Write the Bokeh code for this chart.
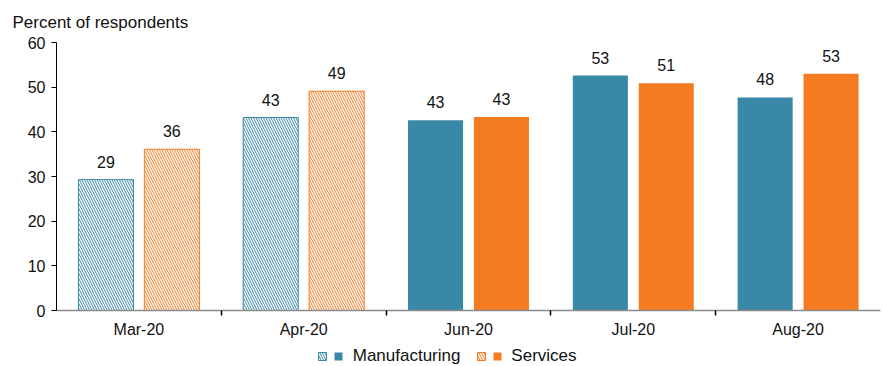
import numpy as np
from bokeh.plotting import figure
from bokeh.layouts import column
from bokeh.models import (Range1d, FixedTicker, Legend, LegendItem,
                          ColumnDataSource)
from bokeh.transform import dodge
from bokeh.core.properties import value
from bokeh.embed import file_html
from bokeh.resources import INLINE

# ---- data ----
months = ["Mar-20", "Apr-20", "Jun-20", "Jul-20", "Aug-20"]
manufacturing = [29.3, 43.2, 42.6, 52.6, 47.7]
services = [36.1, 49.1, 43.3, 50.9, 53.0]
hatched_flag = [True, True, False, False, False]
y_ticks = [0, 10, 20, 30, 40, 50, 60]
series_names = ["Manufacturing", "Services"]

FONT = "Liberation Sans"
BLUE = "#3A88A7"
ORANGE = "#F47B20"
TXT = "#111111"

xs = np.arange(len(months)) + 0.5


def make_src(flag):
    idx = [i for i, f in enumerate(hatched_flag) if f == flag]
    return ColumnDataSource(dict(
        x=[xs[i] for i in idx],
        m=[manufacturing[i] for i in idx],
        s=[services[i] for i in idx],
        ml=[str(int(round(manufacturing[i]))) for i in idx],
        sl=[str(int(round(services[i]))) for i in idx],
    ))


src_h = make_src(True)
src_s = make_src(False)

p = figure(width=883, height=341, x_range=Range1d(0, len(months)),
           y_range=Range1d(0, 60), output_backend="svg",
           toolbar_location=None, min_border_left=56, min_border_right=3,
           min_border_top=41, min_border_bottom=31)
p.outline_line_color = None
p.grid.visible = False

W = 0.334
OFF = 0.2
HATCH = dict(fill_color="white", line_width=1, hatch_pattern="\\",
             hatch_scale=5, hatch_weight=1)


def draw_bars(fig):
    r = {}
    r["hm"] = fig.vbar(x=dodge("x", -OFF), top="m", width=W, source=src_h,
                       line_color=BLUE, hatch_color=BLUE, **HATCH)
    r["hs"] = fig.vbar(x=dodge("x", OFF), top="s", width=W, source=src_h,
                       line_color=ORANGE, hatch_color=ORANGE, **HATCH)
    r["sm"] = fig.vbar(x=dodge("x", -OFF), top="m", width=W, source=src_s,
                       fill_color=BLUE, line_color=None)
    r["ss"] = fig.vbar(x=dodge("x", OFF), top="s", width=W, source=src_s,
                       fill_color=ORANGE, line_color=None)
    return r


draw_bars(p)

for src in (src_h, src_s):
    for off, col, lab in ((-OFF, "m", "ml"), (OFF, "s", "sl")):
        p.text(x=dodge("x", off), y=col, text=lab, source=src,
               text_font=value(FONT), text_font_size="16px", text_color=TXT,
               text_align="center", text_baseline="bottom", y_offset=-12)

# y axis
p.yaxis.ticker = FixedTicker(ticks=y_ticks)
p.yaxis.axis_line_color = "black"
p.yaxis.major_tick_line_color = "black"
p.yaxis.major_tick_out = 5
p.yaxis.major_tick_in = 0
p.yaxis.minor_tick_line_color = None
p.yaxis.major_label_text_font = FONT
p.yaxis.major_label_text_font_size = "16px"
p.yaxis.major_label_text_color = TXT
p.yaxis.major_label_standoff = 6

# x axis
p.xaxis.ticker = FixedTicker(ticks=list(xs),
                             minor_ticks=list(range(1, len(months))))
p.xaxis.major_label_overrides = {float(x): m for x, m in zip(xs, months)}
p.xaxis.axis_line_color = "#8a8a8a"
p.xaxis.axis_line_width = 1.5
p.xaxis.major_tick_line_color = None
p.xaxis.minor_tick_line_color = "black"
p.xaxis.minor_tick_line_width = 1.5
p.xaxis.minor_tick_out = 5
p.xaxis.minor_tick_in = 0
p.xaxis.major_label_text_font = FONT
p.xaxis.major_label_text_font_size = "16px"
p.xaxis.major_label_text_color = TXT
p.xaxis.major_label_standoff = 4

# title
p.title.text = "Percent of respondents"
p.title.text_font = FONT
p.title.text_font_size = "17px"
p.title.text_font_style = "normal"
p.title.text_color = TXT
p.title.align = "left"
p.title.offset = -44
p.title.standoff = 21

# ---- legend strip (bars drawn out of view; only legend swatches show) ----
lg = figure(width=883, height=25, x_range=Range1d(0, len(months)),
            y_range=Range1d(100, 101), output_backend="svg",
            toolbar_location=None, x_axis_type=None, y_axis_type=None,
            min_border=0)
lg.outline_line_color = None
lg.grid.visible = False
lr = draw_bars(lg)

NB = "\u00a0"
legend = Legend(items=[
    LegendItem(label="", renderers=[lr["hm"]]),
    LegendItem(label=NB + series_names[0] + NB * 3, renderers=[lr["sm"]]),
    LegendItem(label="", renderers=[lr["hs"]]),
    LegendItem(label=NB + series_names[1], renderers=[lr["ss"]]),
], orientation="horizontal", location=(261, 0))
legend.glyph_width = 10
legend.glyph_height = 10
legend.label_standoff = 5
legend.label_width = 0
legend.spacing = 1
legend.padding = 0
legend.margin = 0
legend.border_line_color = None
legend.background_fill_alpha = 0
legend.label_text_font = FONT
legend.label_text_font_size = "17px"
legend.label_text_color = TXT
legend.label_height = 10
lg.add_layout(legend, "center")

layout = column(p, lg, spacing=0)
open("out.html", "w").write(file_html(layout, INLINE))
